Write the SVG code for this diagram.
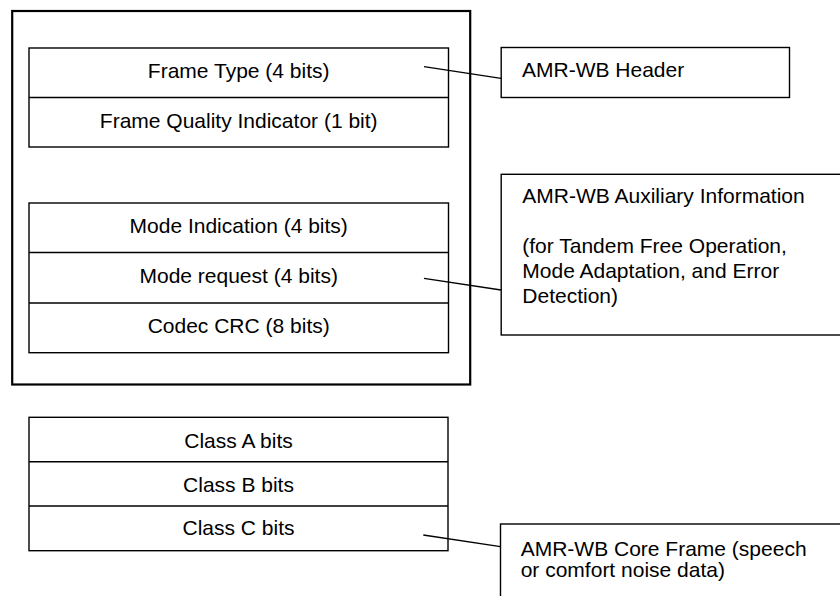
<svg xmlns="http://www.w3.org/2000/svg" width="840" height="596" viewBox="0 0 840 596">
<style>
.box{fill:#fff;stroke:#000;stroke-width:1.4}
.outer{fill:none;stroke:#000;stroke-width:2.2}
.div{stroke:#000;stroke-width:1.4}
.conn{stroke:#000;stroke-width:1.3;fill:none}
text{font-family:"Liberation Sans",Arial,sans-serif;font-size:21px;fill:#000}
.c{text-anchor:middle}
</style>
<rect width="840" height="596" fill="#fff"/>
<g id="outer-frame"><rect class="outer" x="12.2" y="11" width="458" height="373.5"/></g>
<g id="header-fields">
<rect class="box" x="29" y="48" width="419.5" height="99"/>
<line class="div" x1="29" y1="97.5" x2="448.5" y2="97.5"/>
<text class="c" x="238.7" y="78.3">Frame Type (4 bits)</text>
<text class="c" x="238.7" y="128.3">Frame Quality Indicator (1 bit)</text>
</g>
<g id="aux-fields">
<rect class="box" x="29" y="203" width="419.5" height="149.7"/>
<line class="div" x1="29" y1="252.5" x2="448.5" y2="252.5"/>
<line class="div" x1="29" y1="303" x2="448.5" y2="303"/>
<text class="c" x="238.7" y="233.3">Mode Indication (4 bits)</text>
<text class="c" x="238.7" y="283.3">Mode request (4 bits)</text>
<text class="c" x="238.7" y="333.3">Codec CRC (8 bits)</text>
</g>
<g id="core-fields">
<rect class="box" x="29" y="417.3" width="419" height="133.4"/>
<line class="div" x1="29" y1="461.7" x2="448" y2="461.7"/>
<line class="div" x1="29" y1="506" x2="448" y2="506"/>
<text class="c" x="238.5" y="448.3">Class A bits</text>
<text class="c" x="238.5" y="491.7">Class B bits</text>
<text class="c" x="238.5" y="535">Class C bits</text>
</g>
<g id="connectors">
<line class="conn" x1="424" y1="66.7" x2="501" y2="78.3"/>
<line class="conn" x1="424" y1="278.3" x2="501" y2="290"/>
<line class="conn" x1="423.3" y1="535" x2="500.5" y2="546.7"/>
</g>
<g id="amr-wb-header">
<rect class="box" x="501.2" y="47.5" width="288.3" height="50"/>
<text x="522" y="77">AMR-WB Header</text>
</g>
<g id="amr-wb-aux">
<rect class="box" x="501.2" y="174.3" width="345" height="160.7"/>
<text x="522.3" y="203.3">AMR-WB Auxiliary Information</text>
<text x="522.3" y="252.7">(for Tandem Free Operation,</text>
<text x="522.3" y="277.7">Mode Adaptation, and Error</text>
<text x="522.3" y="302.7">Detection)</text>
</g>
<g id="amr-wb-core">
<rect class="box" x="500.5" y="524" width="345" height="80"/>
<text x="520.7" y="556">AMR-WB Core Frame (speech</text>
<text x="520.7" y="576.7">or comfort noise data)</text>
</g>
</svg>
